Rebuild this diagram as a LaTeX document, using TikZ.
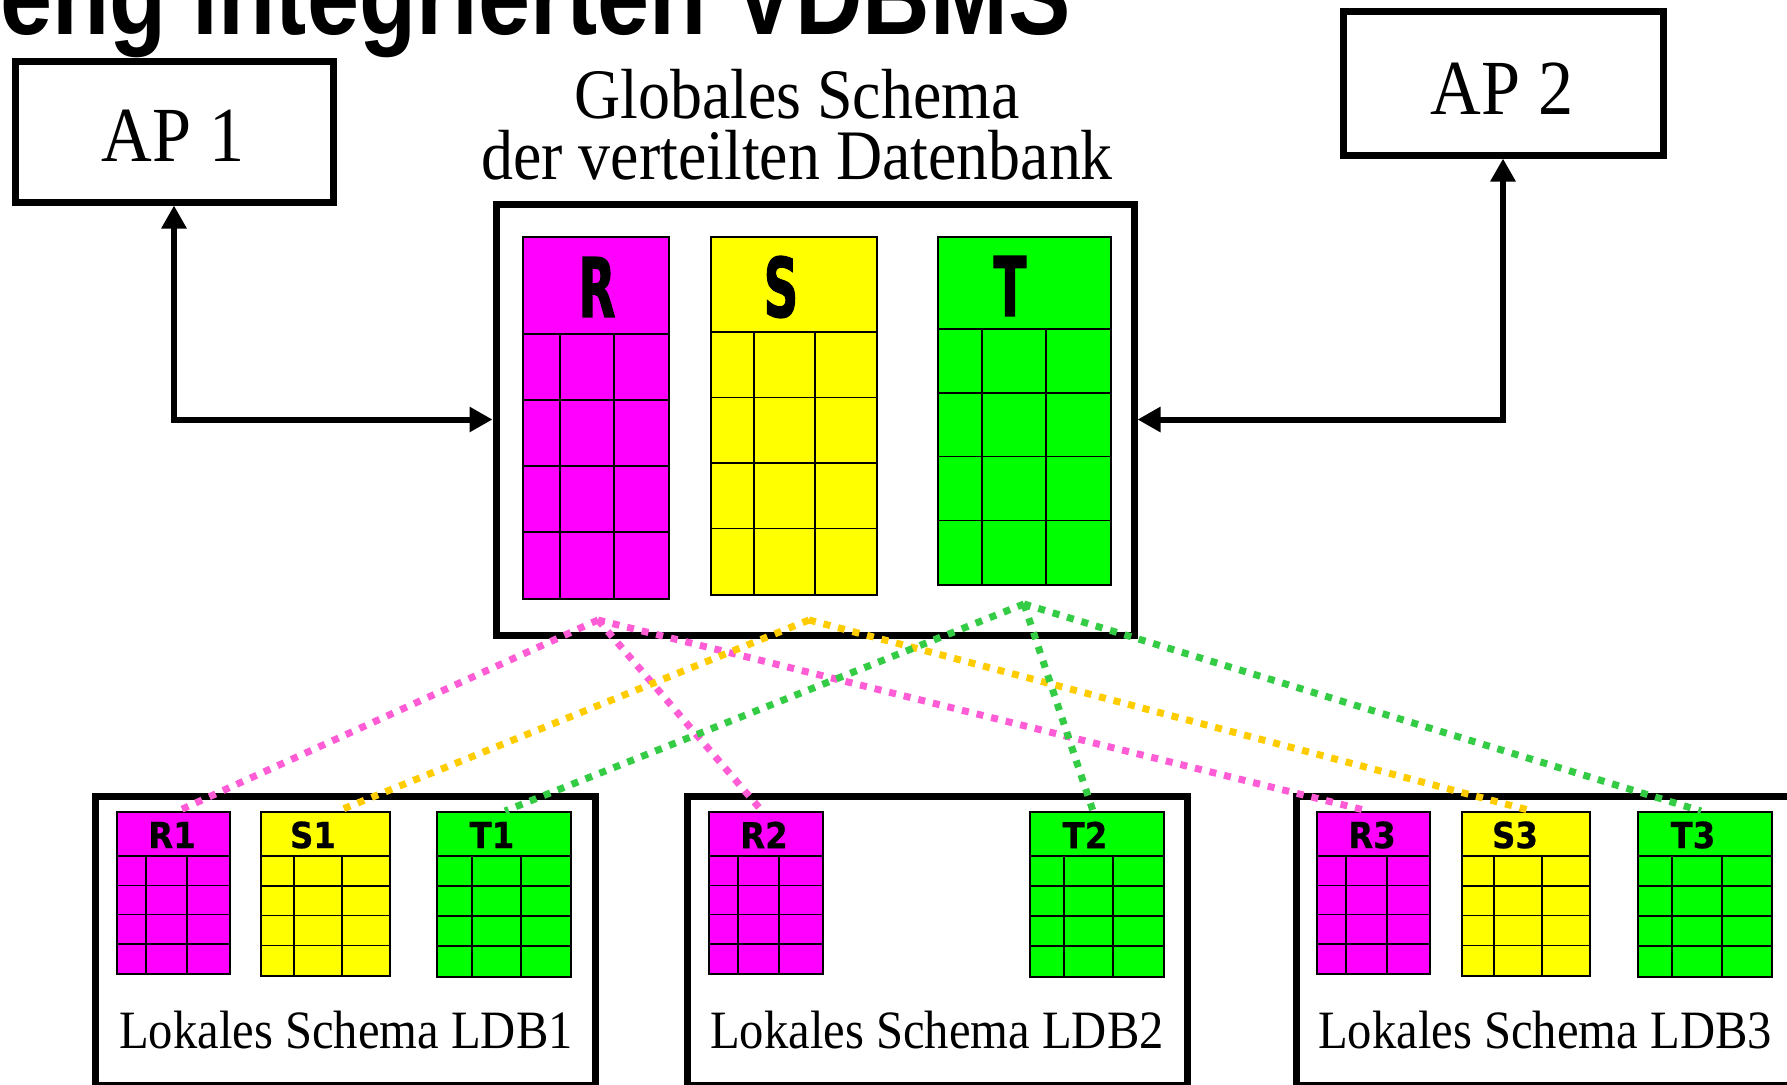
\documentclass[tikz,border=0pt]{standalone}
\usepackage{fontspec}
\setmainfont{Liberation Serif}
\newfontfamily\titlefont[FakeStretch=0.85]{Liberation Sans Bold}
\newfontfamily\capfont[FakeStretch=0.9]{Liberation Serif}
\newfontfamily\hdrfont[FakeStretch=0.58,FakeBold=1.5]{DejaVu Sans Bold}
\newfontfamily\subfont[FakeStretch=0.9,FakeBold=0.6]{DejaVu Sans Bold}
\usetikzlibrary{arrows.meta}

\definecolor{relR}{HTML}{FF00FF}
\definecolor{relS}{HTML}{FFFF00}
\definecolor{relT}{HTML}{00FF00}
\definecolor{linkR}{HTML}{FF5CD6}
\definecolor{linkS}{HTML}{FFCC00}
\definecolor{linkT}{HTML}{33CC44}

\tikzset{
  titletext/.style={inner sep=0pt, font=\titlefont\fontsize{110}{110}\selectfont},
  apbox/.style={draw, line width=7pt, fill=white, inner sep=0pt},
  aptext/.style={inner sep=0pt, font=\capfont\fontsize{78}{78}\selectfont},
  headtext/.style={inner sep=0pt, font=\capfont\fontsize{71}{71}\selectfont},
  schemabox/.style={draw, line width=7pt, fill=white, inner sep=0pt},
  localbox/.style={draw, line width=7pt, fill=white, inner sep=0pt},
  loctext/.style={inner sep=0pt, font=\capfont\fontsize{54}{54}\selectfont},
  tabframe/.style={draw, line width=1.5pt, inner sep=0pt},
  gridline/.style={line width=1.5pt},
  bigcap/.style={inner sep=0pt, font=\hdrfont\fontsize{82}{82}\selectfont},
  smallcap/.style={inner sep=0pt, font=\subfont\fontsize{36}{36}\selectfont},
  link/.style={line width=6pt,
    {Triangle[length=23pt,width=24pt]}-{Triangle[length=23pt,width=24pt]}},
  fragR/.style={draw=linkR, line width=7pt, dash pattern=on 7pt off 8pt},
  fragS/.style={draw=linkS, line width=7pt, dash pattern=on 7pt off 8pt},
  fragT/.style={draw=linkT, line width=7pt, dash pattern=on 7pt off 8pt},
}

% relation table: name, x0, x1, top, header line, bottom, column 1, column 2, fill
\newcommand\dbtab[9]{%
  \node[tabframe, fill=#9, anchor=north west,
        minimum width={(#3-#2)*1pt}, minimum height={(#6-#4)*1pt}] (#1) at (#2,#4) {};
  \draw[gridline] (#2,#5) -- (#3,#5);
  \foreach \k in {1,2,3}
    \draw[gridline] (#2,{#5+\k*(#6-#5)/4}) -- (#3,{#5+\k*(#6-#5)/4});
  \draw[gridline] (#7,#5) -- (#7,#6) (#8,#5) -- (#8,#6);
}

\begin{document}
\begin{tikzpicture}[x=1pt,y=-1pt]
\useasboundingbox (0,0) rectangle (1787,1084);
\clip (0,0) rectangle (1787,1084);

% heading
\node[titletext, anchor=base east] (title) at (1071,34) {eng integrierten VDBMS};

% application programs
\node[apbox, minimum width=318pt, minimum height=141pt] (AP1) at (174,131.5) {};
\node[apbox, minimum width=320pt, minimum height=144pt] (AP2) at (1503,83) {};
\node[aptext] (AP1t) at (173,136) {AP 1};
\node[aptext] (AP2t) at (1502,89) {AP 2};

% global schema
\node[headtext, anchor=base] (gs1) at (797,118.5) {Globales Schema};
\node[headtext, anchor=base] (gs2) at (797,179) {der verteilten Datenbank};
\node[schemabox, minimum width=638pt, minimum height=431pt] (G) at (815,419.5) {};

\dbtab{Rg}{522}{668}{236}{334}{598}{560}{614}{relR}
\dbtab{Sg}{710}{876}{236}{332}{594}{754}{815}{relS}
\dbtab{Tg}{937}{1110}{236}{329}{584}{982}{1046}{relT}
\node[bigcap] (Rg-l) at (597,287) {R};
\node[bigcap] (Sg-l) at (781,287) {S};
\node[bigcap] (Tg-l) at (1010,286) {T};

% local schemas
\node[localbox, minimum width=500pt, minimum height=289pt] (L1) at (345,940.5) {};
\node[localbox, minimum width=500pt, minimum height=289pt] (L2) at (937,940.5) {};
\node[localbox, minimum width=500pt, minimum height=289pt] (L3) at (1546,940.5) {};
\node[loctext, anchor=base] (L1t) at (346,1048) {Lokales Schema LDB1};
\node[loctext, anchor=base] (L2t) at (937,1048) {Lokales Schema LDB2};
\node[loctext, anchor=base] (L3t) at (1545,1048) {Lokales Schema LDB3};

\dbtab{R1}{116}{229}{811}{856}{973}{146}{187}{relR}
\dbtab{S1}{260}{389}{811}{856}{975}{294}{342}{relS}
\dbtab{T1}{436}{570}{811}{856}{976}{472}{521}{relT}
\dbtab{R2}{708}{822}{811}{856}{973}{738}{779}{relR}
\dbtab{T2}{1029}{1163}{811}{856}{976}{1064}{1113}{relT}
\dbtab{R3}{1316}{1429}{811}{856}{973}{1346}{1387}{relR}
\dbtab{S3}{1461}{1589}{811}{856}{975}{1494}{1542}{relS}
\dbtab{T3}{1637}{1771}{811}{856}{976}{1672}{1722}{relT}
\node[smallcap] (R1-l) at (172,835) {R1};
\node[smallcap] (S1-l) at (313,835) {S1};
\node[smallcap] (T1-l) at (492,835) {T1};
\node[smallcap] (R2-l) at (764,835) {R2};
\node[smallcap] (T2-l) at (1085,835) {T2};
\node[smallcap] (R3-l) at (1372,835) {R3};
\node[smallcap] (S3-l) at (1515,835) {S3};
\node[smallcap] (T3-l) at (1693,835) {T3};

% access paths
\draw[link] (AP1.south) |- (G.west);
\draw[link] (G.east) -| (AP2.south);

% fragment allocation
\coordinate (Rsrc) at (598,620);
\coordinate (Ssrc) at (809,620);
\coordinate (Tsrc) at (1024,604);
\coordinate (R1in) at (178,811);
\coordinate (R2in) at (762,811);
\coordinate (R3in) at (1368,811);
\coordinate (S1in) at (338,811);
\coordinate (S3in) at (1532,811);
\coordinate (T1in) at (505,811);
\coordinate (T2in) at (1093,811);
\coordinate (T3in) at (1701,811);

\draw[fragR] (Rsrc) -- (R1in);
\draw[fragR] (Rsrc) -- (R2in);
\draw[fragR] (Rsrc) -- (R3in);
\draw[fragS] (Ssrc) -- (S1in);
\draw[fragS] (Ssrc) -- (S3in);
\draw[fragT] (Tsrc) -- (T1in);
\draw[fragT] (Tsrc) -- (T2in);
\draw[fragT] (Tsrc) -- (T3in);
\end{tikzpicture}
\end{document}
